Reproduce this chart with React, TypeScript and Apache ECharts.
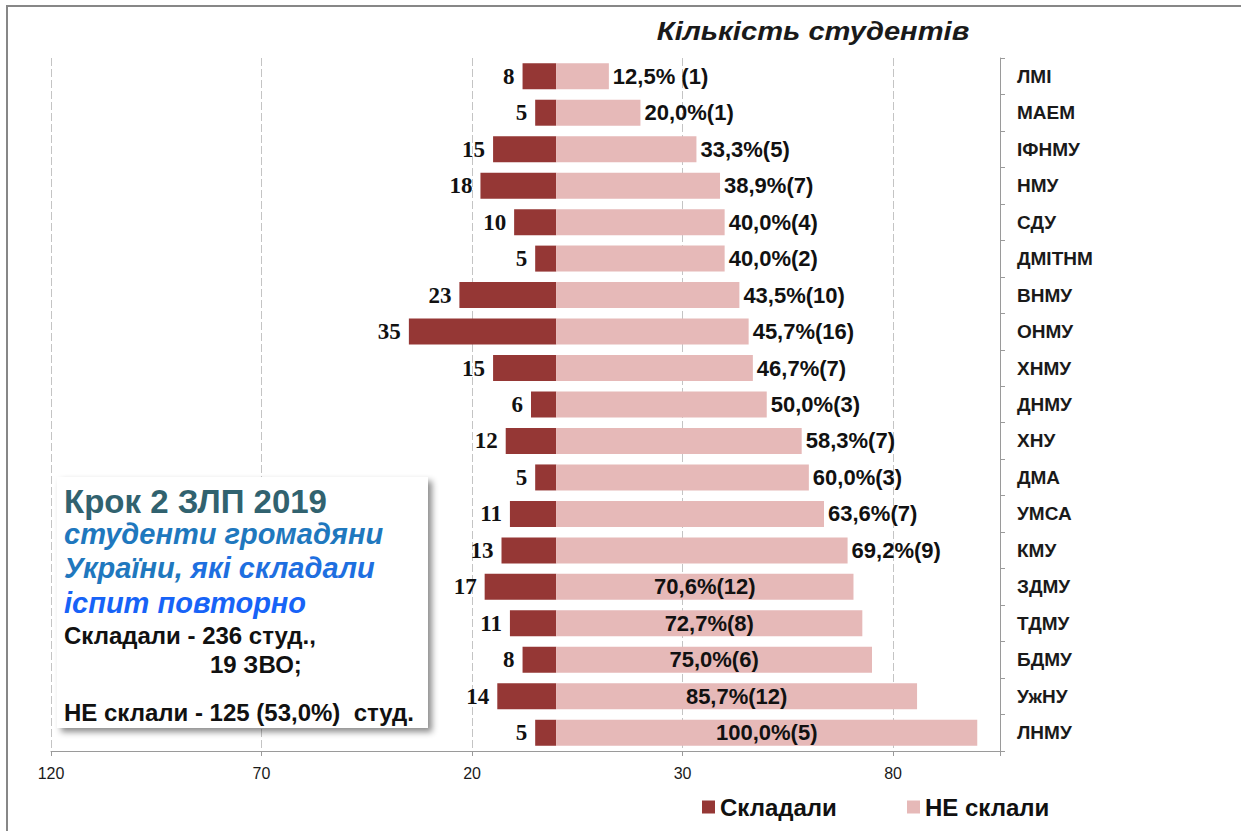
import React, { useEffect, useRef } from "react";
import * as echarts from "echarts";

const categories = [
  "ЛМІ", "МАЕМ", "ІФНМУ", "НМУ", "СДУ", "ДМІТНМ", "ВНМУ", "ОНМУ", "ХНМУ", "ДНМУ",
  "ХНУ", "ДМА", "УМСА", "КМУ", "ЗДМУ", "ТДМУ", "БДМУ", "УжНУ", "ЛНМУ",
];
const satCount = [8, 5, 15, 18, 10, 5, 23, 35, 15, 6, 12, 5, 11, 13, 17, 11, 8, 14, 5];
const failedPct = [12.5, 20.0, 33.3, 38.9, 40.0, 40.0, 43.5, 45.7, 46.7, 50.0, 58.3, 60.0, 63.6, 69.2, 70.6, 72.7, 75.0, 85.7, 100.0];
const failedLabels = [
  "12,5% (1)", "20,0%(1)", "33,3%(5)", "38,9%(7)", "40,0%(4)", "40,0%(2)", "43,5%(10)",
  "45,7%(16)", "46,7%(7)", "50,0%(3)", "58,3%(7)", "60,0%(3)", "63,6%(7)", "69,2%(9)",
  "70,6%(12)", "72,7%(8)", "75,0%(6)", "85,7%(12)", "100,0%(5)",
];
const xTicks = [-120, -70, -20, 30, 80];
const seriesNames = ["Складали", "НЕ склали"];

const DARK = "#953735";
const PINK = "#E6B9B8";
const SANS = "'Liberation Sans', Arial, sans-serif";
const SERIF = "'Liberation Serif', 'Times New Roman', serif";

export default function App() {
  const ref = useRef<HTMLDivElement>(null);
  useEffect(() => {
    if (!ref.current) return;
    const chart = echarts.init(ref.current, undefined, { renderer: "svg" });
    const legendText = { fontFamily: SANS, fontWeight: "bold", fontSize: 24, color: "#111" };
    const option: any = {
      animation: false,
      backgroundColor: "#ffffff",
      grid: { left: 51, right: 241, top: 58, bottom: 80, containLabel: false },
      xAxis: {
        type: "value",
        min: -120,
        max: 105.4,
        interval: 50,
        axisLine: { show: true, lineStyle: { color: "#9a9a9a", width: 1 } },
        axisTick: { show: true, length: 5, lineStyle: { color: "#9a9a9a" } },
        axisLabel: {
          margin: 14,
          fontFamily: SANS,
          fontSize: 16,
          color: "#1a1a1a",
          formatter: (v: number) => (xTicks.includes(Math.round(v)) ? String(Math.abs(Math.round(v))) : ""),
        },
        splitLine: { show: true, lineStyle: { color: "#c4c4c4", type: [8, 3], width: 1 } },
      },
      yAxis: {
        type: "category",
        data: categories,
        inverse: true,
        position: "right",
        axisLine: { show: true, onZero: false, lineStyle: { color: "#9a9a9a" } },
        axisTick: { show: true, length: 5, lineStyle: { color: "#9a9a9a" } },
        axisLabel: {
          margin: 17,
          fontFamily: SANS,
          fontWeight: "bold",
          fontSize: 19,
          color: "#1a1a1a",
          align: "left",
        },
        splitLine: { show: false },
      },
      legend: [
        {
          data: [seriesNames[0]],
          left: 702,
          top: 795,
          icon: "rect",
          itemWidth: 13,
          itemHeight: 13,
          itemGap: 5,
          padding: 0,
          textStyle: legendText,
        },
        {
          data: [seriesNames[1]],
          left: 907,
          top: 795,
          icon: "rect",
          itemWidth: 13,
          itemHeight: 13,
          padding: 0,
          textStyle: legendText,
        },
      ],
      series: [
        {
          name: seriesNames[0],
          type: "bar",
          barWidth: 26,
          barGap: "-100%",
          itemStyle: { color: DARK },
          data: satCount.map((v) => -v),
          label: {
            show: true,
            position: "left",
            distance: 8,
            fontFamily: SERIF,
            fontWeight: "bold",
            fontSize: 23,
            color: "#111",
            formatter: (p: any) => String(satCount[p.dataIndex]),
          },
        },
        {
          name: seriesNames[1],
          type: "bar",
          barWidth: 26,
          barGap: "-100%",
          itemStyle: { color: PINK },
          data: failedPct.map((v) => ({
            value: v,
            label: { position: v >= 70 ? "inside" : "right" },
          })),
          label: {
            show: true,
            position: "right",
            distance: 4,
            fontFamily: SANS,
            fontWeight: "bold",
            fontSize: 22,
            color: "#111",
            formatter: (p: any) => failedLabels[p.dataIndex],
          },
        },
      ],
      graphic: [
        { type: "line", shape: { x1: 6, y1: 6, x2: 1241, y2: 6 }, style: { stroke: "#878787", lineWidth: 2 } },
        { type: "line", shape: { x1: 7, y1: 5, x2: 7, y2: 831 }, style: { stroke: "#878787", lineWidth: 2 } },
        {
          type: "text",
          x: 813,
          y: 31,
          scaleX: 1.12,
          style: {
            text: "Кількість студентів",
            font: `italic bold 26px ${SANS}`,
            fill: "#1a1a1a",
            align: "center",
            verticalAlign: "middle",
          },
        },
        {
          type: "rect",
          shape: { x: 57, y: 477, width: 371, height: 251 },
          style: {
            fill: "#ffffff",
            shadowBlur: 6,
            shadowOffsetX: 4,
            shadowOffsetY: 4,
            shadowColor: "rgba(0,0,0,0.45)",
          },
          z: 10,
        },
        {
          type: "text",
          x: 64,
          y: 501,
          z: 11,
          style: { text: "Крок 2 ЗЛП 2019", font: `bold 33px ${SANS}`, fill: "#31626F", align: "left", verticalAlign: "middle" },
        },
        {
          type: "text",
          x: 64,
          y: 534,
          z: 11,
          style: { text: "студенти громадяни", font: `italic bold 29px ${SANS}`, fill: "#1F78BE", align: "left", verticalAlign: "middle" },
        },
        {
          type: "text",
          x: 64,
          y: 568,
          z: 11,
          style: {
            text: "{a|України,} {b|які складали}",
            font: `italic bold 29px ${SANS}`,
            align: "left",
            verticalAlign: "middle",
            rich: {
              a: { font: `italic bold 29px ${SANS}`, fill: "#1F78BE" },
              b: { font: `italic bold 29px ${SANS}`, fill: "#1E6FE0" },
            },
          },
        },
        {
          type: "text",
          x: 64,
          y: 603,
          z: 11,
          style: { text: "іспит повторно", font: `italic bold 29px ${SANS}`, fill: "#1763F7", align: "left", verticalAlign: "middle" },
        },
        {
          type: "text",
          x: 64,
          y: 635,
          z: 11,
          style: { text: "Складали - 236 студ.,", font: `bold 24px ${SANS}`, fill: "#111", align: "left", verticalAlign: "middle" },
        },
        {
          type: "text",
          x: 210,
          y: 664,
          z: 11,
          style: { text: "19 ЗВО;", font: `bold 24px ${SANS}`, fill: "#111", align: "left", verticalAlign: "middle" },
        },
        {
          type: "text",
          x: 64,
          y: 712,
          z: 11,
          style: { text: "НЕ склали - 125 (53,0%)  студ.", font: `bold 24px ${SANS}`, fill: "#111", align: "left", verticalAlign: "middle" },
        },
      ],
    };
    chart.setOption(option);
    return () => chart.dispose();
  }, []);
  return <div ref={ref} style={{ position: "absolute", left: 0, top: 0, width: 1241, height: 831 }} />;
}
